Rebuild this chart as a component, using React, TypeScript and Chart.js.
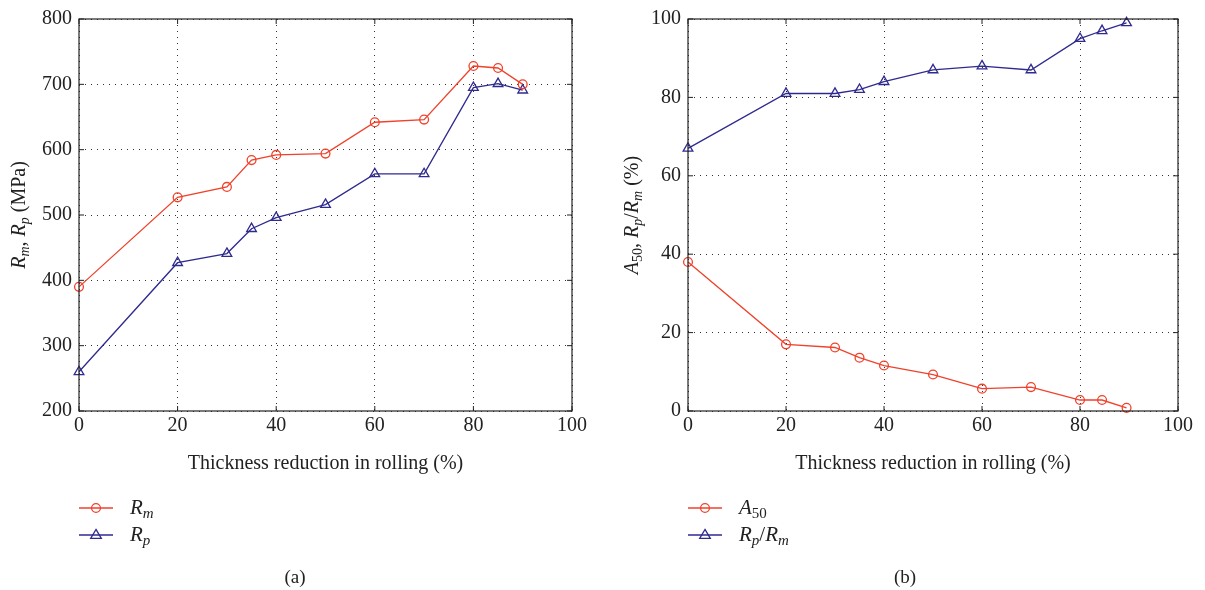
import React, { useEffect, useRef } from 'react';
import { Chart, registerables } from 'chart.js';
Chart.register(...registerables);

// ---- data ----
const thicknessA = [0, 20, 30, 35, 40, 50, 60, 70, 80, 85, 90];
const rmValues = [390, 527, 543, 584, 592, 594, 642, 646, 728, 725, 700];
const rpValues = [260, 427, 441, 479, 496, 516, 563, 563, 695, 701, 691];

const thicknessB = [0, 20, 30, 35, 40, 50, 60, 70, 80, 84.5, 89.5];
const a50Values = [38, 17, 16.2, 13.6, 11.6, 9.3, 5.7, 6.1, 2.8, 2.8, 0.8];
const ratioValues = [67, 81, 81, 82, 84, 87, 88, 87, 95, 97, 99];

const xTitle = 'Thickness reduction in rolling (%)';
const captionA = '(a)';
const captionB = '(b)';

const RED = '#f0412b';
const BLUE = '#2f2a8e';
const FONT = "'Liberation Serif', 'Times New Roman', serif";

type Seg = { t: string; it?: boolean; sub?: boolean };

const yTitleA: Seg[] = [
  { t: 'R', it: true }, { t: 'm', it: true, sub: true }, { t: ', ' },
  { t: 'R', it: true }, { t: 'p', it: true, sub: true }, { t: ' (MPa)' },
];
const yTitleB: Seg[] = [
  { t: 'A', it: true }, { t: '50', sub: true }, { t: ', ' },
  { t: 'R', it: true }, { t: 'p', it: true, sub: true }, { t: '/' },
  { t: 'R', it: true }, { t: 'm', it: true, sub: true }, { t: ' (%)' },
];
const legendA: { segs: Seg[]; color: string; marker: string }[] = [
  { segs: [{ t: 'R', it: true }, { t: 'm', it: true, sub: true }], color: RED, marker: 'circle' },
  { segs: [{ t: 'R', it: true }, { t: 'p', it: true, sub: true }], color: BLUE, marker: 'triangle' },
];
const legendB: { segs: Seg[]; color: string; marker: string }[] = [
  { segs: [{ t: 'A', it: true }, { t: '50', sub: true }], color: RED, marker: 'circle' },
  {
    segs: [{ t: 'R', it: true }, { t: 'p', it: true, sub: true }, { t: '/' }, { t: 'R', it: true }, { t: 'm', it: true, sub: true }],
    color: BLUE, marker: 'triangle',
  },
];

function segFont(s: Seg, size: number) {
  const sz = s.sub ? Math.round(size * 0.72) : size;
  return `${s.it ? 'italic ' : ''}${sz}px ${FONT}`;
}
function richWidth(ctx: CanvasRenderingContext2D, segs: Seg[], size: number) {
  let w = 0;
  for (const s of segs) {
    ctx.font = segFont(s, size);
    w += ctx.measureText(s.t).width;
  }
  return w;
}
function drawRich(ctx: CanvasRenderingContext2D, segs: Seg[], x: number, y: number, size: number, align: 'left' | 'center') {
  let cx = align === 'center' ? x - richWidth(ctx, segs, size) / 2 : x;
  ctx.textBaseline = 'middle';
  ctx.textAlign = 'left';
  for (const s of segs) {
    ctx.font = segFont(s, size);
    ctx.fillText(s.t, cx, s.sub ? y + size * 0.28 : y);
    cx += ctx.measureText(s.t).width;
  }
}

function drawMarker(ctx: CanvasRenderingContext2D, kind: string, x: number, y: number, color: string) {
  ctx.save();
  ctx.strokeStyle = color;
  ctx.lineWidth = 1.3;
  ctx.beginPath();
  if (kind === 'circle') {
    ctx.arc(x, y, 4.4, 0, Math.PI * 2);
  } else {
    const r = 5.6;
    ctx.moveTo(x, y - r);
    ctx.lineTo(x + r * 0.95, y + r * 0.6);
    ctx.lineTo(x - r * 0.95, y + r * 0.6);
    ctx.closePath();
  }
  ctx.stroke();
  ctx.restore();
}

type Deco = {
  yTitle: Seg[];
  yTitleX: number;
  legend: { segs: Seg[]; color: string; marker: string }[];
  legendX: number;
  caption: string;
  captionX: number;
};

function makeDecoPlugin(d: Deco) {
  return {
    id: 'deco',
    afterDraw(chart: any) {
      const ctx: CanvasRenderingContext2D = chart.ctx;
      const a = chart.chartArea;
      ctx.save();
      // frame
      ctx.strokeStyle = '#222';
      ctx.lineWidth = 1.2;
      ctx.strokeRect(a.left, a.top, a.right - a.left, a.bottom - a.top);
      // inward tick marks
      const xs = chart.scales.x;
      const ys = chart.scales.y;
      ctx.lineWidth = 1;
      ctx.beginPath();
      for (const t of xs.ticks) {
        const px = xs.getPixelForValue(t.value);
        ctx.moveTo(px, a.bottom); ctx.lineTo(px, a.bottom - 5);
        ctx.moveTo(px, a.top); ctx.lineTo(px, a.top + 5);
      }
      for (const t of ys.ticks) {
        const py = ys.getPixelForValue(t.value);
        ctx.moveTo(a.left, py); ctx.lineTo(a.left + 5, py);
        ctx.moveTo(a.right, py); ctx.lineTo(a.right - 5, py);
      }
      ctx.stroke();
      // y title
      ctx.fillStyle = '#222';
      ctx.save();
      ctx.translate(d.yTitleX, (a.top + a.bottom) / 2);
      ctx.rotate(-Math.PI / 2);
      drawRich(ctx, d.yTitle, 0, 0, 20, 'center');
      ctx.restore();
      // legend
      d.legend.forEach((item, i) => {
        const y = 508 + i * 27;
        ctx.strokeStyle = item.color;
        ctx.lineWidth = 1.3;
        ctx.beginPath();
        ctx.moveTo(d.legendX, y);
        ctx.lineTo(d.legendX + 34, y);
        ctx.stroke();
        drawMarker(ctx, item.marker, d.legendX + 17, y, item.color);
        ctx.fillStyle = '#222';
        drawRich(ctx, item.segs, d.legendX + 51, y, 21, 'left');
      });
      // caption
      ctx.fillStyle = '#222';
      ctx.font = `19px ${FONT}`;
      ctx.textAlign = 'center';
      ctx.textBaseline = 'middle';
      ctx.fillText(d.caption, d.captionX, 578);
      ctx.restore();
    },
  };
}

function buildConfig(
  xs: number[], s1: number[], s2: number[], yMin: number, yMax: number, yStep: number,
  leftW: number, padRight: number, deco: Deco,
) {
  const grid = {
    color: '#333',
    lineWidth: 1,
    drawTicks: false,
  } as any;
  return {
    type: 'line',
    data: {
      datasets: [
        {
          label: 's1',
          data: xs.map((x, i) => ({ x, y: s1[i] })),
          borderColor: RED,
          backgroundColor: 'rgba(0,0,0,0)',
          borderWidth: 1.3,
          pointStyle: 'circle',
          pointRadius: 4.4,
          pointBorderWidth: 1.3,
          pointBorderColor: RED,
          pointBackgroundColor: 'rgba(0,0,0,0)',
          tension: 0,
          clip: false,
        },
        {
          label: 's2',
          data: xs.map((x, i) => ({ x, y: s2[i] })),
          borderColor: BLUE,
          backgroundColor: 'rgba(0,0,0,0)',
          borderWidth: 1.3,
          pointStyle: 'triangle',
          pointRadius: 5.6,
          pointBorderWidth: 1.3,
          pointBorderColor: BLUE,
          pointBackgroundColor: 'rgba(0,0,0,0)',
          tension: 0,
          clip: false,
        },
      ],
    },
    options: {
      responsive: false,
      animation: false,
      events: [],
      layout: { padding: { left: 0, right: padRight, top: 15, bottom: 0 } },
      plugins: { legend: { display: false }, tooltip: { enabled: false } },
      scales: {
        x: {
          type: 'linear',
          min: 0,
          max: 100,
          border: { display: false, dash: [1, 5] },
          grid: { ...grid },
          ticks: {
            stepSize: 20,
            padding: 3,
            color: '#222',
            font: { family: FONT, size: 20 },
            maxRotation: 0,
          },
          title: {
            display: true,
            text: xTitle,
            color: '#222',
            font: { family: FONT, size: 20 },
            padding: { top: 0, bottom: 114 },
          },
          afterFit: (s: any) => { s.height = 590 - 411; },
        },
        y: {
          type: 'linear',
          min: yMin,
          max: yMax,
          border: { display: false, dash: [1, 5] },
          grid: { ...grid },
          ticks: {
            stepSize: yStep,
            padding: 7,
            color: '#222',
            font: { family: FONT, size: 20 },
          },
          afterFit: (s: any) => { s.width = leftW; },
        },
      },
    },
    plugins: [makeDecoPlugin(deco)],
  } as any;
}

function ChartPanel(props: { config: any; width: number; left: number }) {
  const ref = useRef<HTMLCanvasElement | null>(null);
  useEffect(() => {
    if (!ref.current) return;
    const c = new Chart(ref.current, props.config);
    return () => c.destroy();
  }, []);
  return (
    <canvas
      ref={ref}
      width={props.width}
      height={590}
      style={{ position: 'absolute', left: props.left, top: 0, width: props.width, height: 590 }}
    />
  );
}

export default function App() {
  const cfgA = buildConfig(thicknessA, rmValues, rpValues, 200, 800, 100, 79, 600 - 572, {
    yTitle: yTitleA, yTitleX: 20, legend: legendA, legendX: 79, caption: captionA, captionX: 295,
  });
  const cfgB = buildConfig(thicknessB, a50Values, ratioValues, 0, 100, 20, 88, 605 - 578, {
    yTitle: yTitleB, yTitleX: 33, legend: legendB, legendX: 88, caption: captionB, captionX: 305,
  });
  return (
    <div style={{ position: 'fixed', left: 0, top: 0, width: 1205, height: 590, background: '#fff' }}>
      <ChartPanel config={cfgA} width={600} left={0} />
      <ChartPanel config={cfgB} width={605} left={600} />
    </div>
  );
}
